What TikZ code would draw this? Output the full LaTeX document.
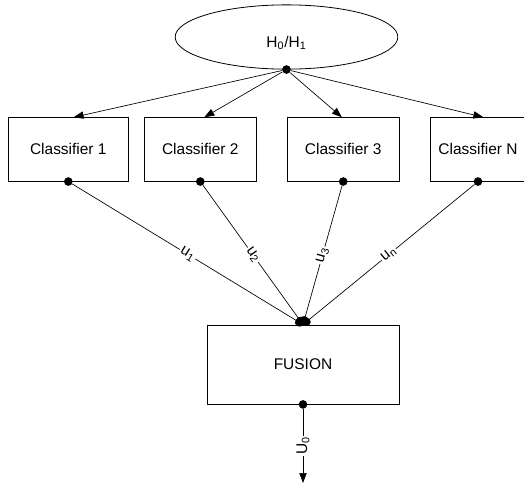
\documentclass[tikz,border=0pt]{standalone}
\usepackage{fontspec}
\setmainfont{Liberation Sans}
\usetikzlibrary{shapes.geometric,arrows.meta}

\tikzset{
  box/.style={draw, rectangle, minimum height=47.6pt, line width=0.6pt},
  dot/.style={circle, fill, inner sep=0pt, minimum size=6.5pt},
  ulabel/.style={fill=white, inner sep=1pt, sloped, midway},
}

\begin{document}
\begin{tikzpicture}[x=0.75pt, y=-0.75pt, font=\fontsize{11.6pt}{14pt}\selectfont,
    >={Triangle[length=7.5pt,width=5.5pt]}]
      \useasboundingbox (0,0) rectangle (524,489);
      \node[draw, ellipse, line width=0.6pt, minimum width=167pt, minimum height=48.2pt,
        text height=17.7pt, text depth=2pt] (h) at (286.5,37) {H\textsubscript{0}/H\textsubscript{1}};
      \node[box, minimum width=90pt] (c1) at (68.3,149.4) {Classifier 1};
      \node[box, minimum width=84.5pt] (c2) at (200.3,149.4) {Classifier 2};
      \node[box, minimum width=83.8pt] (c3) at (343.2,149.4) {Classifier 3};
      \node[box, minimum width=71.3pt] (cn) at (478,149.4) {Classifier N};
      \node[box, minimum width=144pt, minimum height=59.3pt] (fusion) at (303,364.5) {FUSION};
      \coordinate (out) at (303,483);
      \node[dot] (hd) at (h.south) {};
      \node[dot] (d1) at (c1.south) {};
      \node[dot] (d2) at (c2.south) {};
      \node[dot] (d3) at (c3.south) {};
      \node[dot] (dn) at (cn.south) {};
      \node[dot] (fd) at (fusion.south) {};
      \begin{scope}[->, line width=0.5pt]
        \draw (hd) to ([xshift=4pt]c1.north);
        \draw (hd) to ([xshift=3pt]c2.north);
        \draw (hd) to ([xshift=-1pt]c3.north);
        \draw (hd) to ([xshift=4pt]cn.north);
      \end{scope}
      \begin{scope}[-{Circle[length=6.5pt]}, line width=0.5pt]
        \draw (d1) to node[ulabel] {u\textsubscript{1}} (fusion.north);
        \draw (d2) to node[ulabel] {u\textsubscript{2}} (fusion.north);
        \draw (d3) to node[ulabel] {u\textsubscript{3}} (fusion.north);
        \draw (dn) to node[ulabel] {u\textsubscript{n}} (fusion.north);
      \end{scope}
      \draw[->, line width=0.5pt] (fd) to node[midway, fill=white, inner sep=1pt, rotate=90] {U\textsubscript{0}} (out);
    \end{tikzpicture}
\end{document}
